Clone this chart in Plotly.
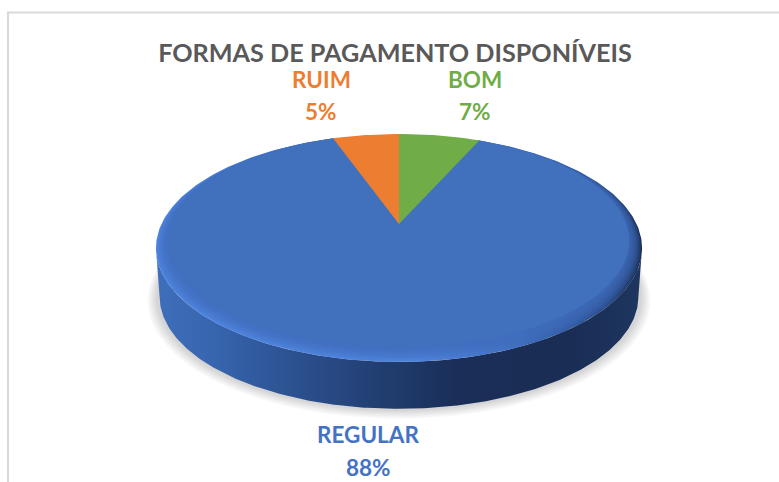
import numpy as np
import plotly.graph_objects as go

# ---- data ----
categories = ["BOM", "REGULAR", "RUIM"]
values = [6.6, 88.0, 5.4]          # clockwise from 12 o'clock
title_text = "FORMAS DE PAGAMENTO DISPONÍVEIS"

# ---- styling ----
FONT = "Lato"
W, H = 779, 482
label_colors = {"BOM": "#70AD47", "REGULAR": "#4472C4", "RUIM": "#ED7D31"}
face_colors = {"BOM": "#70AD47", "REGULAR": "#4170BD", "RUIM": "#ED7D31"}
label_pos = {"BOM": (475, 79, 475, 111), "REGULAR": (368, 434, 368, 467), "RUIM": (321, 79, 321, 111)}

# perspective projection of the pie disc
CX, CY = 399.0, 224.0
A, B, P = 108.9, 237.6, 0.2105


def project(u, v, dy=0.0, k=1.0):
    d = 1 + P * v
    return CX + k * B * u / d, CY + dy - k * A * v / d


def wedge(start, end, s=1.0):
    """Slice between two cumulative shares (0-1); s shrinks the disc towards its far edge."""
    n = max(int((end - start) * 360), 4)
    a = np.linspace(start, end, n) * 2 * np.pi
    u = s * np.sin(a)
    v = s * np.cos(a) + (1 - s)
    x, y = project(u, v)
    return np.r_[CX, x, CX], np.r_[CY, y, CY]


def disc(dy=0.0, k=1.0):
    a = np.linspace(0, 2 * np.pi, 361)
    return project(np.sin(a), np.cos(a), dy, k)


def side(depth=49.0, k=0.985):
    a0 = np.arctan2(np.sqrt(1 - P * P), -P)
    a = np.linspace(a0, 2 * np.pi - a0, 240)
    xt, yt = project(np.sin(a), np.cos(a))
    xb, yb = project(np.sin(a), np.cos(a), depth, k)
    return np.r_[xt, xb[::-1], xt[0]], np.r_[yt, yb[::-1], yt[0]]


def add_poly(fig, x, y, **kw):
    fig.add_trace(go.Scatter(x=x, y=y, mode="lines", fill="toself", line=dict(width=0),
                             hoverinfo="skip", showlegend=False, **kw))


fig = go.Figure()

# soft ground shadow
for i, e in enumerate(np.linspace(1.035, 1.0, 7)):
    x, y = disc(dy=52 - i * 0.5, k=e)
    add_poly(fig, x, y, fillcolor="rgba(0,0,0,0.024)")

# side wall
x, y = side()
add_poly(fig, x, y, fillcolor="rgba(0,0,0,0)",
         fillgradient=dict(type="horizontal", colorscale=[
             [0.0, "#3F6EBB"], [0.12, "#3765AE"], [0.25, "#2E5596"], [0.45, "#223F73"],
             [0.62, "#1A2E57"], [0.85, "#1A2D54"], [1.0, "#1E3660"]]))

# cumulative shares
total = sum(values)
edges = np.r_[0, np.cumsum(values)] / total
span = {c: (edges[i], edges[i + 1]) for i, c in enumerate(categories)}

# REGULAR: bevelled rim, then flat face blended in
x, y = wedge(*span["REGULAR"])
add_poly(fig, x, y, fillcolor="rgba(0,0,0,0)",
         fillgradient=dict(type="horizontal", colorscale=[
             [0.0, "#4F85E0"], [0.55, "#4F85E0"], [0.75, "#3F6FBE"], [0.92, "#2A4D8C"], [1.0, "#182B50"]]))
for s in np.linspace(0.997, 0.962, 8):
    x, y = wedge(*span["REGULAR"], s=s)
    add_poly(fig, x, y, fillcolor="rgba(65,112,189,0.2)")
x, y = wedge(*span["REGULAR"], s=0.958)
add_poly(fig, x, y, fillcolor=face_colors["REGULAR"])

# the two small slices on top
for c in ["RUIM", "BOM"]:
    x, y = wedge(*span[c])
    add_poly(fig, x, y, fillcolor=face_colors[c])

# labels
for c, val in zip(categories, values):
    x1, y1, x2, y2 = label_pos[c]
    pct = f"{val / total * 100:.0f}%"
    for xx, yy, txt in [(x1, y1, c), (x2, y2, pct)]:
        fig.add_annotation(x=xx, y=yy, text=f"<b>{txt}</b>", showarrow=False,
                           xanchor="center", yanchor="middle",
                           font=dict(family=FONT, size=22.5, color=label_colors[c]))

fig.update_layout(
    width=W, height=H, margin=dict(l=0, r=0, t=0, b=0, pad=0),
    paper_bgcolor="white", plot_bgcolor="white", showlegend=False,
    title=dict(text=f"<b>{title_text}</b>", x=395 / W, xanchor="center",
               y=1 - 53 / H, yanchor="middle", xref="paper", yref="paper",
               font=dict(family=FONT, size=25.2, color="#595959")),
    xaxis=dict(range=[0, W], visible=False, fixedrange=True),
    yaxis=dict(range=[H, 0], visible=False, fixedrange=True),
    shapes=[
        dict(type="line", x0=7, x1=W, y0=12.5, y1=12.5, xref="x", yref="y", line=dict(color="#D9D9D9", width=2), layer="below"),
        dict(type="line", x0=8, x1=8, y0=12, y1=H, xref="x", yref="y", line=dict(color="#D9D9D9", width=2), layer="below"),
    ],
)

fig.write_html("out.html", config={"displayModeBar": False},
               post_script="document.body.style.margin='0';document.documentElement.style.overflow='hidden';")
